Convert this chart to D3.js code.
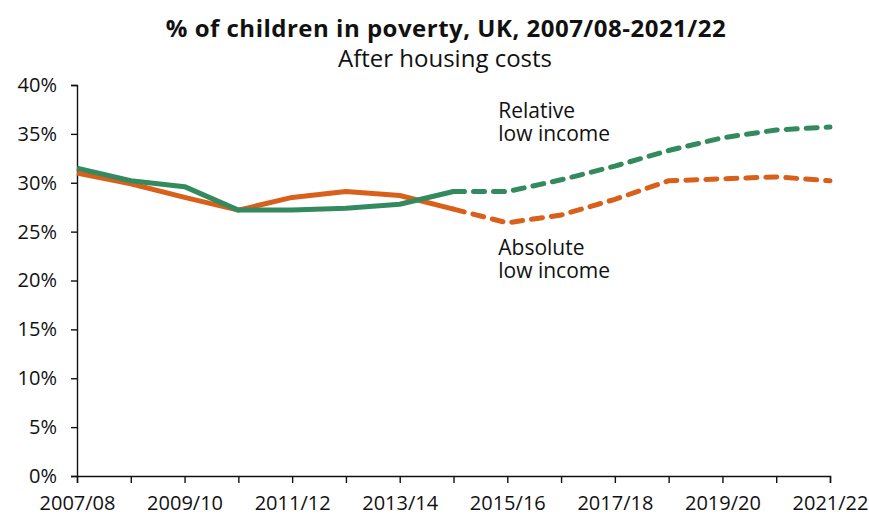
<!DOCTYPE html>
<html>
<head>
<meta charset="utf-8">
<script src="https://cdn.jsdelivr.net/npm/d3@7"></script>
<style>
  body { margin: 0; background: #fff; }
  text { font-family: "Open Sans", "DejaVu Sans", sans-serif; fill: #111; }
</style>
</head>
<body>
<div id="chart"></div>
<script>
// data
var years = ['2007/08','2008/09','2009/10','2010/11','2011/12','2012/13','2013/14',
             '2014/15','2015/16','2016/17','2017/18','2018/19','2019/20','2020/21','2021/22']
var tickLabels = ['2007/08','2009/10','2011/12','2013/14','2015/16','2017/18','2019/20','2021/22']

var relative = [31.5, 30.2, 29.6, 27.2, 27.2, 27.4, 27.8, 29.1,
                29.1, 30.3, 31.7, 33.3, 34.6, 35.4, 35.7]
var absolute = [31.0, 29.9, 28.5, 27.2, 28.5, 29.1, 28.7, 27.3,
                25.9, 26.7, 28.3, 30.2, 30.4, 30.6, 30.2]
var lastActual = 7   // 2014/15: later years are projections (dashed)

var yTicks = [0, 5, 10, 15, 20, 25, 30, 35, 40]

// set the dimensions and margins of the graph
var margin = {top: 85, right: 39, bottom: 40, left: 77},
  width = 869 - margin.left - margin.right,
  height = 516 - margin.top - margin.bottom;

var root = d3.select("#chart")
.append("svg")
  .attr("width", 869)
  .attr("height", 516);

var svg = root.append("g")
  .attr("transform", "translate(" + margin.left + "," + margin.top + ")");

var x = d3.scalePoint()
  .range([0, width])
  .domain(years);

var y = d3.scaleLinear()
  .range([height, 0])
  .domain([0, 40]);

// axes
var xAxis = svg.append("g")
  .attr("transform", "translate(0," + height + ")")
  .call(d3.axisBottom(x).tickSizeOuter(0).tickSize(7)
    .tickFormat(function(d) { return tickLabels.indexOf(d) >= 0 ? d : ""; }));
xAxis.selectAll("text").style("font-size", "20px").attr("y", 34).attr("dy", 0);

var yAxis = svg.append("g")
  .call(d3.axisLeft(y).tickValues(yTicks).tickSizeOuter(0).tickSize(6)
    .tickFormat(function(d) { return d + "%"; }));
yAxis.selectAll("text").style("font-size", "20px").attr("x", -20);

svg.selectAll(".domain, .tick line")
  .attr("stroke", "#111")
  .attr("stroke-width", 1.4);

// lines
var line = d3.line()
  .x(function(d) { return x(d.year) })
  .y(function(d) { return y(d.value) });

function draw(values, colour) {
  var pts = values.map(function(v, i) { return {year: years[i], value: v}; });
  svg.append("path")
    .datum(pts.slice(0, lastActual + 1))
    .attr("fill", "none")
    .attr("stroke", colour)
    .attr("stroke-width", 5)
    .attr("stroke-linejoin", "round")
    .attr("d", line);
  svg.append("path")
    .datum(pts.slice(lastActual))
    .attr("fill", "none")
    .attr("stroke", colour)
    .attr("stroke-width", 5)
    .attr("stroke-linecap", "round")
    .attr("stroke-dasharray", "11,9")
    .attr("d", line);
}
draw(absolute, "#d9601a");
draw(relative, "#338a5e");

// labels
function label(lines, px, py) {
  var t = svg.append("text")
    .attr("x", px)
    .attr("y", py)
    .style("font-size", "21px");
  lines.forEach(function(s, i) {
    t.append("tspan").attr("x", px).attr("dy", i ? 23 : 0).text(s);
  });
}
label(["Relative", "low income"], x('2015/16') - 9, 118 - margin.top);
label(["Absolute", "low income"], x('2015/16') - 9, 255 - margin.top);

// titles
root.append("text")
  .attr("x", 446)
  .attr("y", 37)
  .attr("text-anchor", "middle")
  .style("font-size", "24px")
  .style("font-weight", "bold")
  .style("letter-spacing", "0.5px")
  .text("% of children in poverty, UK, 2007/08-2021/22");

root.append("text")
  .attr("x", 445)
  .attr("y", 67)
  .attr("text-anchor", "middle")
  .style("font-size", "24px")
  .text("After housing costs");
</script>
</body>
</html>
